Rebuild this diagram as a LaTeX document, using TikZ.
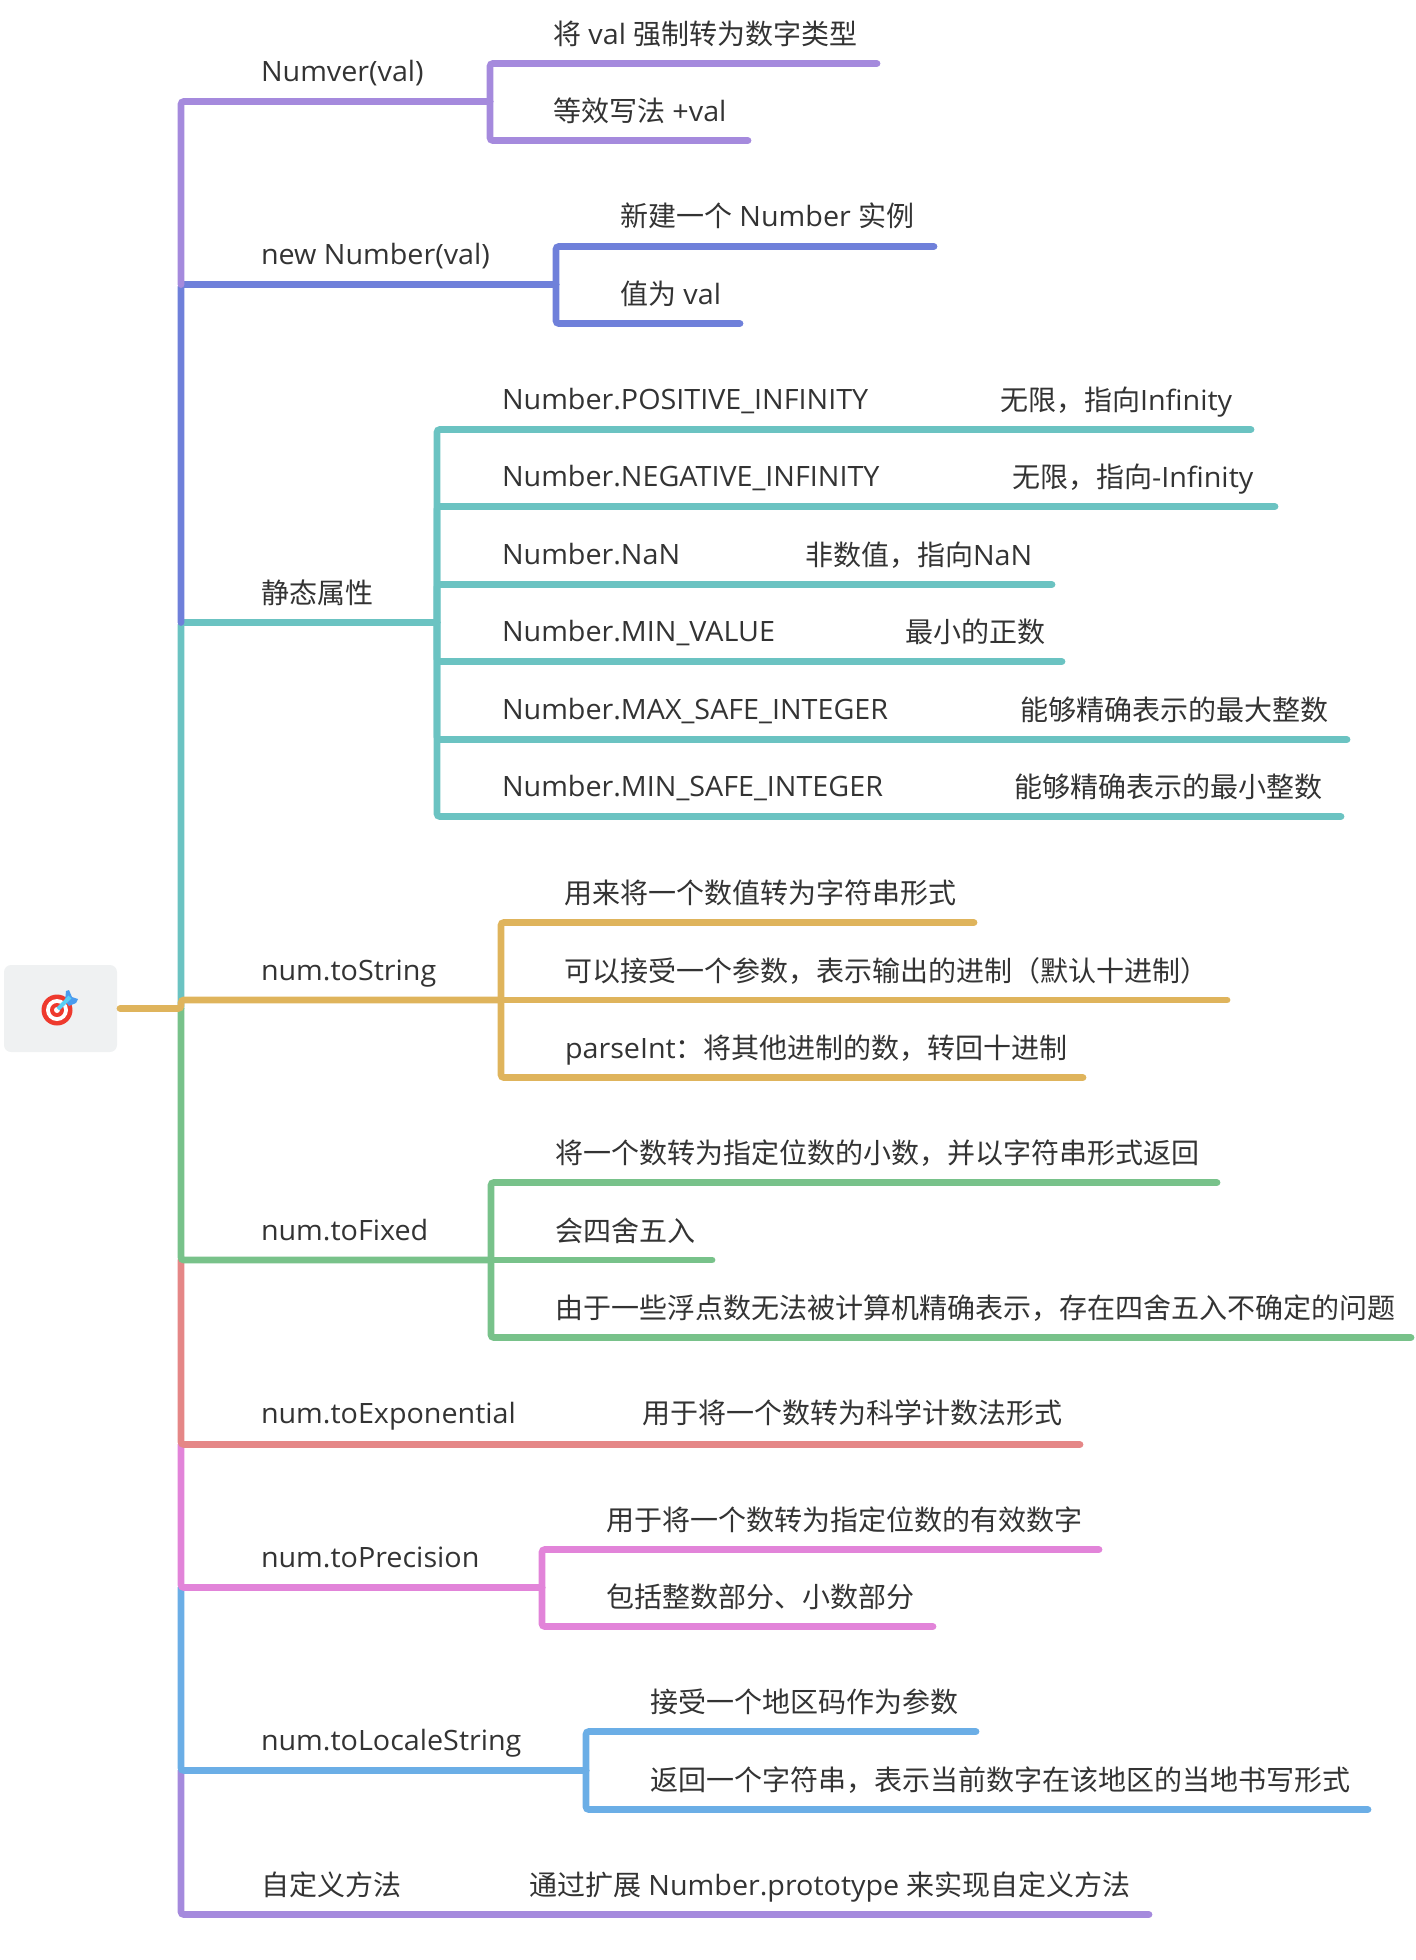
\documentclass[tikz,border=0pt]{standalone}
\usepackage{fontspec}
\setmainfont{Open Sans}[FakeStretch=1.025]
\newfontfamily\cjk{Noto Sans CJK SC}
\newcommand{\zh}[1]{{\cjk #1}}
\definecolor{cpurple}{HTML}{A58ADD}
\definecolor{cblue}{HTML}{6F80DA}
\definecolor{cteal}{HTML}{6BC3C2}
\definecolor{cgold}{HTML}{DFB45C}
\definecolor{cgreen}{HTML}{78C28A}
\definecolor{cred}{HTML}{E58787}
\definecolor{cpink}{HTML}{E284D9}
\definecolor{csky}{HTML}{6BAEE6}
\definecolor{ctext}{HTML}{333333}
\definecolor{cbox}{HTML}{EFF1F2}
\definecolor{cring}{HTML}{EE3A2E}
\definecolor{cfin}{HTML}{4A9CEF}
\definecolor{cshaft}{HTML}{5AD0F5}
\tikzset{
  lbl/.style={anchor=base west,inner sep=0pt,outer sep=0pt,text=ctext,font=\fontsize{28}{34}\selectfont},
  conn/.style={line width=6.8pt,line cap=round,rounded corners=3pt},
  rootbox/.style={fill=cbox,rounded corners=7pt,draw=none,minimum width=113pt,minimum height=87pt,inner sep=0pt}
}
\begin{document}
\begin{tikzpicture}[x=1pt,y=-1pt]
\useasboundingbox (0,0) rectangle (1416,1960);
% root
\node[rootbox] (root) at (60.5,1008.5) {};
\fill[cring] (57,1010) circle (15.5);
\fill[white] (57,1010) circle (11);
\fill[cring] (57,1010) circle (7);
\fill[white] (57,1010) circle (3);
\fill[cfin] (65,1001) -- (66,991) -- (69,990) -- (72,997) -- (78,999) -- (76,1003) -- (69,1006) -- cycle;
\draw[cshaft,line width=4pt] (58,1009) -- (70,997);
% coordinates
\coordinate (rootout) at (120,1008.5);
% branch ends
\coordinate (b1) at (490,101.5);
\coordinate (b2) at (556,284.5);
\coordinate (b3) at (437,622.5);
\coordinate (b4) at (501,1000);
\coordinate (b5) at (491,1260);
\coordinate (b6) at (1080,1444.5);
\coordinate (b7) at (542,1587.5);
\coordinate (b8) at (586,1770.5);
\coordinate (b9) at (1149,1914.5);
\coordinate (j) at (181,1008.5);
% trunk
\draw[conn,cteal] (j) -- (181,622.5) -- (b3);
\draw[conn,cblue] (181,622.5) -- (181,284.5) -- (b2);
\draw[conn,cpurple] (181,284.5) -- (181,101.5) -- (b1);
\draw[conn,cpurple] (181,1770.5) -- (181,1914.5) -- (b9);
\draw[conn,csky] (181,1587.5) -- (181,1770.5) -- (b8);
\draw[conn,cpink] (181,1444.5) -- (181,1587.5) -- (b7);
\draw[conn,cred] (181,1260) -- (181,1444.5) -- (b6);
\draw[conn,cgreen] (j) -- (181,1260) -- (b5);
\draw[conn,cgold] (rootout) -- (j) -- (181,1000) -- (b4);
% children
\draw[conn,cpurple] (b1) |- (877,63.5);
\draw[conn,cpurple] (b1) |- (748,140.5);
\draw[conn,cblue] (b2) |- (934,246.5);
\draw[conn,cblue] (b2) |- (740,323.5);
\draw[conn,cteal] (b3) |- (1251,429.5);
\draw[conn,cteal] (b3) |- (1275,506.5);
\draw[conn,cteal] (b3) |- (1052,584.5);
\draw[conn,cteal] (b3) |- (1062,661.5);
\draw[conn,cteal] (b3) |- (1347,739.5);
\draw[conn,cteal] (b3) |- (1341,816.5);
\draw[conn,cgold] (b4) |- (974,922.5);
\draw[conn,cgold] (b4) -- (1227,1000);
\draw[conn,cgold] (b4) |- (1083,1077.5);
\draw[conn,cgreen] (b5) |- (1217,1182.5);
\draw[conn,cgreen] (b5) -- (712,1260);
\draw[conn,cgreen] (b5) |- (1411,1337.5);
\draw[conn,cpink] (b7) |- (1099,1549.5);
\draw[conn,cpink] (b7) |- (933,1626.5);
\draw[conn,csky] (b8) |- (976,1731.5);
\draw[conn,csky] (b8) |- (1368,1809.5);
% labels
\node[lbl] (t1) at (261,81.5) {Numver(val)};
\node[lbl] (t11) at (553,44) {\zh{将} val \zh{强制转为数字类型}};
\node[lbl] (t12) at (553,121) {\zh{等效写法} +val};
\node[lbl] (t2) at (261,264.5) {new Number(val)};
\node[lbl] (t21) at (620,226.5) {\zh{新建一个} Number \zh{实例}};
\node[lbl] (t22) at (620,304) {\zh{值为} val};
\node[lbl] (t3) at (261,603) {\zh{静态属性}};
\node[lbl] (t31) at (502,409.5) {Number.POSITIVE\_INFINITY};
\node[lbl] (t31b) at (1000,410) {\zh{无限，指向}Infinity};
\node[lbl] (t32) at (502,486.5) {Number.NEGATIVE\_INFINITY};
\node[lbl] (t32b) at (1012,487) {\zh{无限，指向}-Infinity};
\node[lbl] (t33) at (502,564.5) {Number.NaN};
\node[lbl] (t33b) at (805,565) {\zh{非数值，指向}NaN};
\node[lbl] (t34) at (502,641.5) {Number.MIN\_VALUE};
\node[lbl] (t34b) at (905,642) {\zh{最小的正数}};
\node[lbl] (t35) at (502,719.5) {Number.MAX\_SAFE\_INTEGER};
\node[lbl] (t35b) at (1020,720) {\zh{能够精确表示的最大整数}};
\node[lbl] (t36) at (502,796.5) {Number.MIN\_SAFE\_INTEGER};
\node[lbl] (t36b) at (1014,797) {\zh{能够精确表示的最小整数}};
\node[lbl] (t4) at (261,980.5) {num.toString};
\node[lbl] (t41) at (564,903) {\zh{用来将一个数值转为字符串形式}};
\node[lbl] (t42) at (564,981) {\zh{可以接受一个参数，表示输出的进制（默认十进制）}};
\node[lbl] (t43) at (565,1058) {parseInt\zh{：将其他进制的数，转回十进制}};
\node[lbl] (t5) at (261,1240.5) {num.toFixed};
\node[lbl] (t51) at (555,1163) {\zh{将一个数转为指定位数的小数，并以字符串形式返回}};
\node[lbl] (t52) at (555,1241) {\zh{会四舍五入}};
\node[lbl] (t53) at (555,1318) {\zh{由于一些浮点数无法被计算机精确表示，存在四舍五入不确定的问题}};
\node[lbl] (t6) at (261,1423) {num.toExponential};
\node[lbl] (t6b) at (642,1423) {\zh{用于将一个数转为科学计数法形式}};
\node[lbl] (t7) at (261,1567.5) {num.toPrecision};
\node[lbl] (t71) at (606,1530) {\zh{用于将一个数转为指定位数的有效数字}};
\node[lbl] (t72) at (606,1607) {\zh{包括整数部分、小数部分}};
\node[lbl] (t8) at (261,1750) {num.toLocaleString};
\node[lbl] (t81) at (650,1712) {\zh{接受一个地区码作为参数}};
\node[lbl] (t82) at (650,1790) {\zh{返回一个字符串，表示当前数字在该地区的当地书写形式}};
\node[lbl] (t9) at (261,1895) {\zh{自定义方法}};
\node[lbl] (t9b) at (529,1895) {\zh{通过扩展} Number.prototype \zh{来实现自定义方法}};
\end{tikzpicture}
\end{document}
